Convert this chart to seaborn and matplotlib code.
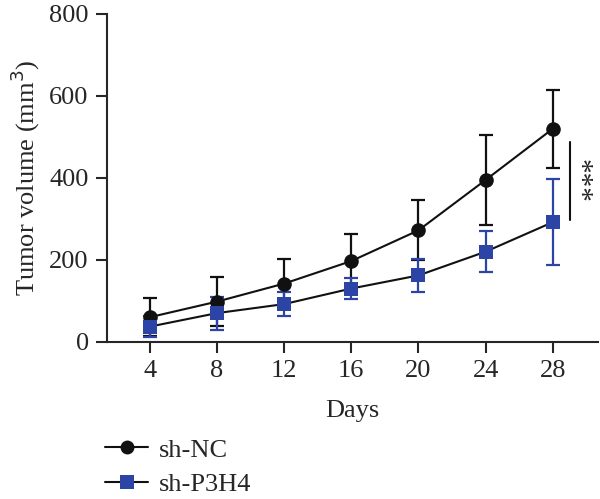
import matplotlib
matplotlib.use("Agg")
import matplotlib.pyplot as plt
import seaborn as sns
import pandas as pd
import numpy as np

days = [4, 8, 12, 16, 20, 24, 28]
nc_mean = [60, 98, 142, 197, 272, 395, 520]
nc_sd = [47, 60, 60, 65, 73, 110, 95]
p3_mean = [37, 70, 92, 130, 162, 220, 292]
p3_sd = [25, 40, 30, 25, 40, 50, 105]
groups = ["sh-NC", "sh-P3H4"]
colors = {"sh-NC": "#111111", "sh-P3H4": "#2B44A6"}
yticks = [0, 200, 400, 600, 800]
xticks = days
sig_range = [298, 488]
sig_text = "***"

sns.set_theme(style="ticks")
plt.rcParams["font.family"] = ["Liberation Serif", "DejaVu Serif"]
FS = 19

df = pd.DataFrame({
    "Days": days * 2,
    "vol": nc_mean + p3_mean,
    "sd": nc_sd + p3_sd,
    "group": [groups[0]] * len(days) + [groups[1]] * len(days),
})

fig = plt.figure(figsize=(6, 4.99), dpi=100)
ax = fig.add_axes([0.178, 0.315, 0.819, 0.657])

for g, z in zip(groups, [3, 4]):
    sub = df[df.group == g]
    ax.errorbar(sub["Days"], sub["vol"], yerr=sub["sd"], fmt="none",
                ecolor=colors[g], elinewidth=1.6, capsize=5, capthick=1.6, zorder=z)

sns.lineplot(data=df, x="Days", y="vol", hue="group", style="group",
             markers={"sh-NC": "o", "sh-P3H4": "s"}, dashes=False,
             palette=colors, markersize=10.5, linewidth=1.5,
             markeredgewidth=0, ax=ax, legend=True, zorder=5)
for l in ax.get_lines():
    l.set_color("#111111")
    if l.get_marker() == "s":
        l.set_markerfacecolor(colors["sh-P3H4"])
        l.set_markeredgecolor(colors["sh-P3H4"])
    elif l.get_marker() == "o":
        l.set_markerfacecolor(colors["sh-NC"])
        l.set_markeredgecolor(colors["sh-NC"])

ax.set_xlim(1.45, 30.7)
ax.set_ylim(0, 800)
ax.set_xticks(xticks)
ax.set_yticks(yticks)
ax.tick_params(axis="both", labelsize=FS, length=8, width=1.5, direction="out", pad=5)
ax.set_xlabel("Days", fontsize=FS, labelpad=13)
ax.set_ylabel("Tumor volume (mm$^3$)", fontsize=FS, labelpad=5)
sns.despine(ax=ax)
for s in ["left", "bottom"]:
    ax.spines[s].set_linewidth(1.5)

# significance
ax.plot([29.0, 29.0], sig_range, color="#111111", lw=1.5, clip_on=False)
ax.text(29.55, 393, sig_text, rotation=-90, fontsize=21,
        ha="center", va="center")

leg = ax.legend(title=None, frameon=False, fontsize=FS, loc="upper left",
                bbox_to_anchor=(0.175, 0.122), bbox_transform=fig.transFigure,
                handlelength=1.63, handletextpad=0.4, labelspacing=0.42,
                borderaxespad=0, borderpad=0)
for h in leg.legend_handles:
    h.set_color("#111111")
    h.set_markersize(10)
leg.legend_handles[1].set_markerfacecolor(colors["sh-P3H4"])
leg.legend_handles[1].set_markeredgecolor(colors["sh-P3H4"])

fig.savefig("out.png", dpi=100)
